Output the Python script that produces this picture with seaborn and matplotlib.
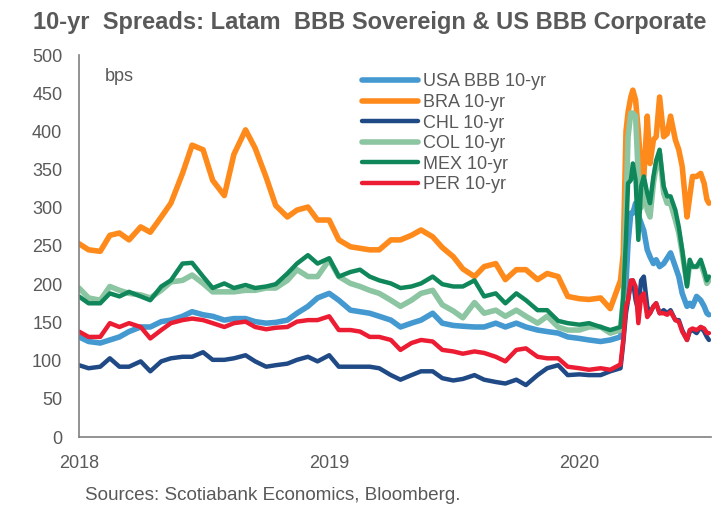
import matplotlib
matplotlib.use("Agg")
import matplotlib.pyplot as plt
import matplotlib.dates as mdates
import pandas as pd
import seaborn as sns

# Observation dates (semi-monthly, then denser through the 2020 sell-off)
dates = [
    "2018-01-01", "2018-01-15", "2018-02-01", "2018-02-15", "2018-03-01", "2018-03-15",
    "2018-04-01", "2018-04-15", "2018-05-01", "2018-05-15", "2018-06-01", "2018-06-15",
    "2018-07-01", "2018-07-15", "2018-08-01", "2018-08-15", "2018-09-01", "2018-09-15",
    "2018-10-01", "2018-10-15", "2018-11-01", "2018-11-15", "2018-12-01", "2018-12-15",
    "2019-01-01", "2019-01-15", "2019-02-01", "2019-02-15", "2019-03-01", "2019-03-15",
    "2019-04-01", "2019-04-15", "2019-05-01", "2019-05-15", "2019-06-01", "2019-06-15",
    "2019-07-01", "2019-07-15", "2019-08-01", "2019-08-15", "2019-09-01", "2019-09-15",
    "2019-10-01", "2019-10-15", "2019-11-01", "2019-11-15", "2019-12-01", "2019-12-15",
    "2020-01-01", "2020-01-15", "2020-02-01", "2020-02-15",
    "2020-03-01", "2020-03-05", "2020-03-09", "2020-03-12", "2020-03-16", "2020-03-19",
    "2020-03-23", "2020-03-27", "2020-03-31", "2020-04-04", "2020-04-09", "2020-04-13",
    "2020-04-18", "2020-04-22", "2020-04-27", "2020-05-03", "2020-05-08", "2020-05-13",
    "2020-05-20", "2020-05-25", "2020-05-30", "2020-06-06", "2020-06-10", "2020-06-14",
    "2020-06-20", "2020-06-26", "2020-07-01", "2020-07-05", "2020-07-08",
]

# Spreads in basis points
usa = [131, 125, 123, 127, 131, 138, 144, 144, 151, 153, 158, 164,
       160, 158, 153, 155, 155, 151, 149, 150, 153, 162, 171, 182,
       188, 179, 166, 164, 162, 158, 153, 144, 149, 153, 162, 149,
       146, 145, 144, 144, 149, 144, 149, 144, 140, 138, 136, 131,
       129, 127, 125, 127,
       131, 150, 201, 254, 293, 293,
       306, 290, 280, 270, 245, 236,
       227, 232, 223, 227, 234, 241,
       223, 210, 188, 171, 175, 171,
       184, 179, 171, 162, 160]

bra = [253, 245, 243, 264, 267, 258, 275, 268, 288, 306, 345, 382,
       376, 336, 316, 370, 402, 378, 340, 303, 288, 297, 301, 284,
       284, 258, 249, 247, 245, 245, 258, 258, 264, 271, 262, 248,
       236, 220, 210, 223, 227, 206, 219, 219, 206, 214, 210, 184,
       181, 180, 182, 168,
       205, 240, 400, 425, 445, 454,
       441, 400, 349, 341, 420, 358,
       389, 393, 445, 393, 397, 420,
       389, 376, 354, 288, 315, 341,
       341, 345, 332, 311, 306]

chl = [94, 90, 92, 103, 92, 92, 99, 86, 99, 103, 105, 105,
       111, 101, 101, 103, 107, 99, 92, 94, 96, 101, 105, 99,
       107, 92, 92, 92, 92, 90, 81, 75, 81, 86, 86, 77,
       74, 76, 81, 75, 72, 70, 75, 68, 81, 90, 94, 81,
       82, 81, 81, 86,
       90, 123, 162, 179, 201, 205,
       179, 166, 205, 210, 171, 162,
       171, 175, 162, 166, 162, 166,
       153, 153, 140, 127, 138, 140,
       136, 144, 138, 131, 127]

col = [195, 182, 179, 197, 192, 188, 186, 182, 192, 203, 205, 212,
       201, 190, 190, 190, 192, 192, 195, 195, 205, 219, 210, 210,
       232, 210, 201, 197, 192, 188, 179, 171, 179, 188, 192, 173,
       165, 156, 176, 162, 166, 158, 166, 158, 149, 158, 144, 140,
       140, 144, 144, 136,
       140, 180, 300, 393, 424, 424,
       420, 340, 300, 336, 297, 288,
       332, 354, 371, 319, 306, 306,
       284, 267, 241, 200, 227, 223,
       223, 227, 214, 201, 205]

mex = [184, 175, 175, 188, 184, 190, 184, 179, 197, 205, 227, 228,
       210, 195, 201, 195, 199, 195, 197, 200, 214, 227, 238, 227,
       234, 210, 216, 219, 210, 205, 201, 195, 197, 201, 210, 200,
       197, 197, 205, 184, 188, 175, 188, 179, 166, 166, 152, 149,
       147, 149, 144, 140,
       144, 183, 260, 332, 336, 358,
       336, 258, 328, 341, 319, 306,
       341, 362, 376, 328, 315, 315,
       297, 275, 245, 197, 232, 223,
       223, 232, 218, 205, 210]

per = [138, 131, 131, 149, 144, 149, 144, 129, 140, 149, 153, 155,
       153, 149, 144, 149, 151, 144, 141, 143, 144, 151, 153, 153,
       158, 140, 140, 138, 131, 131, 127, 114, 123, 127, 125, 114,
       112, 109, 112, 110, 105, 99, 114, 116, 105, 103, 103, 92,
       90, 88, 90, 88,
       95, 127, 171, 179, 205, 205,
       197, 149, 184, 188, 157, 162,
       171, 175, 162, 162, 160, 164,
       153, 151, 138, 127, 140, 142,
       140, 144, 142, 136, 136]

names = ["USA BBB 10-yr", "BRA 10-yr", "CHL 10-yr", "COL 10-yr", "MEX 10-yr", "PER 10-yr"]
colors = ["#4499D0", "#FF8A1C", "#1F4A85", "#8CC5A2", "#10875A", "#EC1C33"]
widths = [4.0, 4.0, 3.2, 4.0, 3.2, 3.2]

df = pd.DataFrame({"date": pd.to_datetime(dates),
                   names[0]: usa, names[1]: bra, names[2]: chl,
                   names[3]: col, names[4]: mex, names[5]: per})
long = df.melt(id_vars="date", var_name="series", value_name="bps")

sns.set_theme(style="white")
plt.rcParams["font.family"] = ["Liberation Sans", "DejaVu Sans"]

GREY_TXT = "#595959"
GREY_AX = "#808080"

fig = plt.figure(figsize=(7.28, 5.08), dpi=100)
ax = fig.add_axes([79 / 728, 71 / 508, 632 / 728, 382 / 508])

for name, c, lw in zip(names, colors, widths):
    sns.lineplot(data=long[long["series"] == name], x="date", y="bps",
                 color=c, linewidth=lw, label=name, ax=ax,
                 solid_joinstyle="round", solid_capstyle="round")

ax.set_xlim(pd.Timestamp("2018-01-01"), pd.Timestamp("2020-07-11"))
ax.set_ylim(0, 500)
ax.set_yticks(range(0, 501, 50))
ax.xaxis.set_major_locator(mdates.YearLocator())
ax.xaxis.set_major_formatter(mdates.DateFormatter("%Y"))
ax.set_xlabel("")
ax.set_ylabel("")

for side in ("top", "right"):
    ax.spines[side].set_visible(False)
for side in ("left", "bottom"):
    ax.spines[side].set_color(GREY_AX)
    ax.spines[side].set_linewidth(1.2)

ax.tick_params(axis="both", direction="in", length=6, width=1.2, color=GREY_AX,
               labelcolor=GREY_TXT, labelsize=13)
ax.tick_params(axis="y", pad=12)
ax.tick_params(axis="x", pad=13)

ax.text(0.041, 0.945, "bps", transform=ax.transAxes, fontsize=13,
        color=GREY_TXT, va="center", ha="left")

ax.legend(loc="upper left", bbox_to_anchor=(0.448, 0.952), frameon=False,
          fontsize=13, handlelength=3.1, handletextpad=0.25, labelspacing=0.2,
          borderpad=0, borderaxespad=0, labelcolor=GREY_TXT)

fig.text(33 / 728, 1 - 29 / 508, "10-yr  Spreads: Latam  BBB Sovereign & US BBB Corporate",
         fontsize=17, fontweight="bold", color=GREY_TXT, ha="left", va="baseline")
fig.text(85 / 728, 1 - 495 / 508, "Sources: Scotiabank Economics, Bloomberg.",
         fontsize=13.6, color=GREY_TXT, ha="left", va="center")

fig.savefig("out.png", dpi=100, facecolor="white")
